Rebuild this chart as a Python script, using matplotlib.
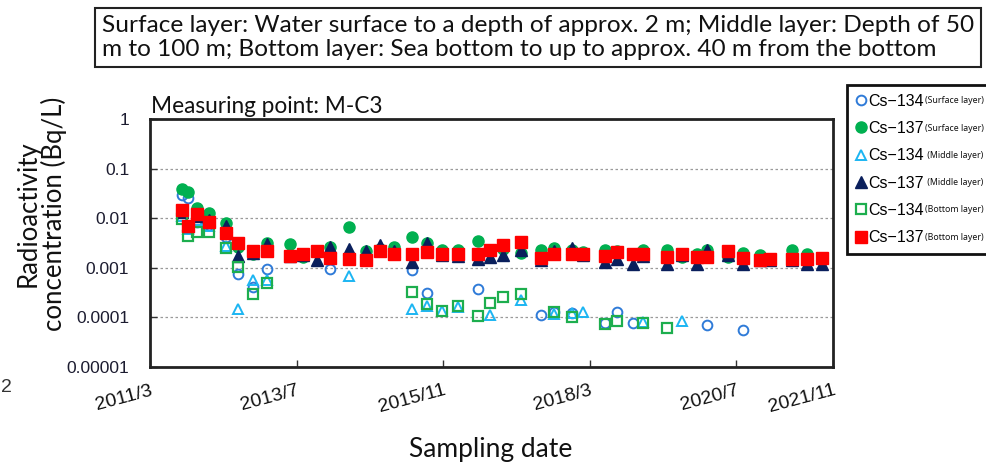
import numpy as np
import pandas as pd
import matplotlib
matplotlib.use("Agg")
import matplotlib.pyplot as plt

# ---------------- data ----------------
dates = ["2011-09-01", "2011-10-10", "2011-12-01", "2012-02-09", "2012-05-16", "2012-07-27",
         "2012-10-22", "2013-01-08", "2013-05-23", "2013-08-09", "2013-10-26", "2014-01-11",
         "2014-05-03", "2014-08-11", "2014-10-29", "2015-01-18", "2015-05-01", "2015-07-31",
         "2015-10-23", "2016-01-27", "2016-05-22", "2016-07-29", "2016-10-15", "2017-01-24",
         "2017-05-20", "2017-08-07", "2017-11-17", "2018-01-20", "2018-05-29", "2018-08-05",
         "2018-11-10", "2019-01-07", "2019-05-23", "2019-08-18", "2019-11-14", "2020-01-11",
         "2020-05-12", "2020-08-11", "2020-11-16", "2021-01-13", "2021-05-19", "2021-08-18",
         "2021-11-10"]
nan = np.nan
cs134_surface = [0.029, 0.025, 0.0085, 0.0072, 0.0042, 0.00076, 0.00040, 0.00095, nan, nan, nan, 0.00092,
                 nan, nan, nan, nan, 0.00089, 0.00031, nan, nan, 0.00037, nan, nan, nan,
                 0.00011, 0.000127, 0.00012, nan, 7.5e-5, 0.000127, 7.5e-5, nan, nan, nan, nan, 7.0e-5,
                 nan, 5.5e-5, nan, nan, nan, nan, nan]
cs137_surface = [0.038, 0.034, 0.016, 0.0128, 0.0078, 0.0026, 0.0019, 0.0032, 0.0030, 0.00165, 0.0021, 0.0026,
                 0.0065, 0.0022, 0.0024, 0.0026, 0.0042, 0.0031, 0.0023, 0.0023, 0.0034, 0.0022, 0.0024, 0.0020,
                 0.0023, 0.0025, 0.0023, 0.0021, 0.0023, 0.0022, 0.0019, 0.0023, 0.0023, 0.00165, 0.0019, 0.0023,
                 0.00165, 0.0020, 0.0018, 0.0015, 0.0023, 0.0019, 0.0016]
cs134_middle = [0.011, 0.006, 0.009, 0.007, 0.0027, 0.000148, 0.00056, 0.00055, nan, nan, nan, nan,
                0.00067, nan, nan, nan, 0.000148, 0.000168, 0.000132, 0.000163, nan, 0.00011, nan, 0.00022,
                nan, 0.000118, 0.00012, 0.000127, nan, nan, nan, 8.0e-5, nan, 8.5e-5, nan, nan,
                nan, nan, nan, nan, nan, nan, nan]
cs137_middle = [0.013, 0.007, 0.011, 0.009, 0.0068, 0.0017, 0.0020, 0.0030, 0.0017, 0.0018, 0.0014, 0.0026,
                0.0024, 0.0022, 0.0028, 0.0022, 0.0013, 0.0031, 0.0018, 0.0017, 0.0015, 0.00165, 0.0018, 0.0023,
                0.0014, 0.0022, 0.0025, 0.0018, 0.0013, 0.00146, 0.0012, 0.0017, 0.0012, 0.0018, 0.0012, 0.0023,
                0.0018, 0.0012, 0.0014, 0.0014, 0.0014, 0.0012, 0.0012]
cs134_bottom = [0.0098, 0.0044, 0.0053, 0.0053, 0.0025, 0.00104, 0.00030, 0.00050, nan, nan, nan, nan,
                nan, nan, nan, nan, 0.00032, 0.000187, 0.000135, 0.00017, 0.000108, 0.00019, 0.00026, 0.00030,
                nan, 0.00013, 0.00010, nan, 7.3e-5, 8.5e-5, nan, 7.8e-5, 6.0e-5, nan, nan, nan,
                nan, nan, nan, nan, nan, nan, nan]
cs137_bottom = [0.0145, 0.0069, 0.012, 0.0084, 0.0051, 0.0031, 0.00215, 0.00215, 0.00173, 0.00187, 0.0022, 0.0016,
                0.00149, 0.00142, 0.00215, 0.00187, 0.00187, 0.0021, 0.00185, 0.00187, 0.00187, 0.0023, 0.0028, 0.0033,
                0.0016, 0.00187, 0.00187, 0.0019, 0.0017, 0.0021, 0.00187, 0.00187, 0.00165, 0.00187, 0.00165, 0.00165,
                0.0022, 0.0016, 0.00142, 0.00146, 0.00146, 0.00146, 0.00158]

series_labels = ["Cs\u2212134", "Cs\u2212137", "Cs\u2212134", "Cs\u2212137", "Cs\u2212134", "Cs\u2212137"]
series_layers = ["(Surface layer)", "(Surface layer)", " (Middle layer)", " (Middle layer)",
                 "(Bottom layer)", "(Bottom layer)"]
x_tick_dates = ["2011-03-01", "2013-07-01", "2015-11-01", "2018-03-01", "2020-07-01", "2022-01-14"]
x_tick_labels = ["2011/3", "2013/7", "2015/11", "2018/3", "2020/7", "2021/11"]
y_ticks = [1, 0.1, 0.01, 0.001, 0.0001, 0.00001]
y_tick_labels = ["1", "0.1", "0.01", "0.001", "0.0001", "0.00001"]

# ---------------- figure ----------------
W, H = 987, 463
fig = plt.figure(figsize=(W / 100, H / 100), dpi=100)
ax = fig.add_axes([150 / W, 1 - 366.7 / H, (833 - 150) / W, (366.7 - 119) / H])

x = pd.to_datetime(dates)
styles = [
    dict(marker="o", ms=7, mfc="none", mec="#2F7BD8", mew=1.4),
    dict(marker="o", ms=8, mfc="#00B050", mec="#00B050", mew=1),
    dict(marker="^", ms=7.5, mfc="none", mec="#1CB5F2", mew=1.4),
    dict(marker="^", ms=8, mfc="#0A1F5C", mec="#0A1F5C", mew=1),
    dict(marker="s", ms=7, mfc="none", mec="#1DAE4E", mew=1.6),
    dict(marker="s", ms=8.5, mfc="#FF0000", mec="#FF0000", mew=1),
]
all_series = [cs134_surface, cs137_surface, cs134_middle, cs137_middle, cs134_bottom, cs137_bottom]
handles = []
for i, (vals, st) in enumerate(zip(all_series, styles)):
    h, = ax.plot(x, vals, linestyle="none", zorder=3 + i, clip_on=False, **st)
    handles.append(h)

ax.set_yscale("log")
ax.set_ylim(0.00001, 1)
ax.set_xlim(pd.Timestamp(x_tick_dates[0]), pd.Timestamp(x_tick_dates[-1]))
ax.set_yticks(y_ticks)
ax.set_yticklabels(y_tick_labels)
ax.yaxis.set_minor_locator(matplotlib.ticker.NullLocator())
ax.set_xticks(pd.to_datetime(x_tick_dates))
ax.set_xticklabels(x_tick_labels)

for lab in ax.get_yticklabels():
    lab.set_fontfamily(["Liberation Sans", "DejaVu Sans"])
    lab.set_fontsize(12.5)
    lab.set_color("#1c1c30")
for lab in ax.get_xticklabels():
    lab.set_fontfamily(["Liberation Sans", "DejaVu Sans"])
    lab.set_fontsize(14)
    lab.set_rotation(15)
    lab.set_ha("right")
    lab.set_va("top")
    lab.set_rotation_mode("anchor")
    lab.set_color("#111111")

ax.tick_params(axis="y", direction="in", length=5, width=1, pad=15, color="#333333")
ax.tick_params(axis="x", direction="in", length=5, width=1, pad=11, color="#333333")
ax.grid(axis="y", which="major", linestyle=(0, (2, 2)), color="#9a9a9a", linewidth=0.9)
for sp in ax.spines.values():
    sp.set_linewidth(2)
    sp.set_color("#222222")

# Texts
fig.text(151 / W, 1 - 113 / H, "Measuring point: M-C3", fontsize=16.3, family="Lato",
         ha="left", va="baseline", color="#111111")
fig.text(41 / W, 1 - 214 / H, "Radioactivity\nconcentration (Bq/L)", fontsize=18.5, family="Lato",
         rotation=90, ha="center", va="center", multialignment="center", color="#111111",
         linespacing=1.0)
fig.text(491 / W, 1 - 449 / H, "Sampling date", fontsize=19, family="Lato",
         ha="center", va="center", color="#111111")
fig.text(102 / W, 1 - 37.5 / H,
         "Surface layer: Water surface to a depth of approx. 2 m; Middle layer: Depth of 50\n"
         "m to 100 m; Bottom layer: Sea bottom to up to approx. 40 m from the bottom",
         fontsize=17.6, family="Lato", ha="left", va="center", color="#111111", linespacing=1.13,
         bbox=dict(boxstyle="square,pad=0.3", fc="white", ec="#222222", lw=1.5))
fig.text(1 / W, 1 - 388 / H, "2", fontsize=14, family="Liberation Sans", ha="left", va="center",
         color="#333333")

# Legend
leg = fig.legend(handles, series_labels, loc="upper left",
                 bbox_to_anchor=(847 / W, 1 - 258 / H, (1000 - 847) / W, (258 - 85) / H),
                 mode="expand", borderaxespad=0, ncol=1, frameon=True, fancybox=False,
                 framealpha=1, handlelength=0.6, handletextpad=0.2, labelspacing=0.77,
                 borderpad=0.55, prop=dict(family=["Liberation Sans", "DejaVu Sans"], size=11.5))
leg.get_frame().set_linewidth(2)
leg.get_frame().set_edgecolor("#111111")

fig.canvas.draw()
r = fig.canvas.get_renderer()
for txt, layer in zip(leg.get_texts(), series_layers):
    bb = txt.get_window_extent(r)
    fig.text((bb.x1 + 1) / W, (bb.y0 + 3.5) / H, layer, fontsize=6.3, family="Noto Sans",
             ha="left", va="bottom", color="#111111", zorder=20)

fig.savefig("out.png", dpi=100)
